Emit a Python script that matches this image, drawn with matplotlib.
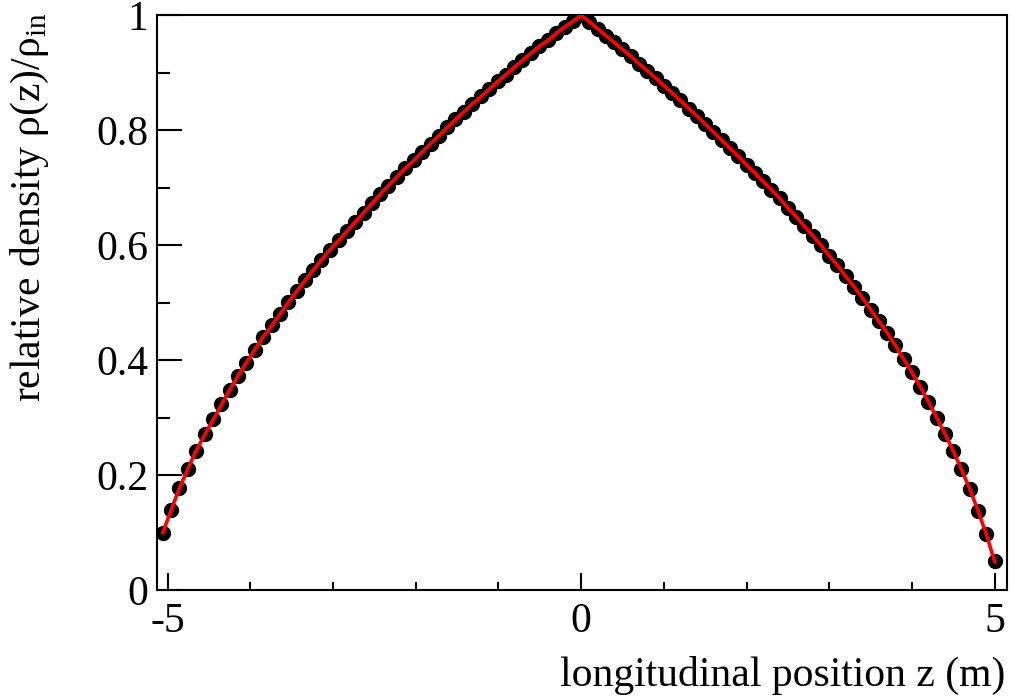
import matplotlib
matplotlib.use('Agg')
import matplotlib.pyplot as plt
from matplotlib.ticker import MultipleLocator

plt.rcParams['font.family'] = ['Liberation Serif', 'DejaVu Serif']
plt.rcParams['mathtext.fontset'] = 'custom'
plt.rcParams['mathtext.rm'] = 'Liberation Serif'
plt.rcParams['axes.unicode_minus'] = False

# longitudinal position (m)
z_left = [-5.06, -4.96, -4.86, -4.76, -4.66, -4.55, -4.45, -4.35, -4.25, -4.15,
          -4.05, -3.95, -3.85, -3.74, -3.64, -3.54, -3.44, -3.34, -3.24, -3.14,
          -3.04, -2.93, -2.83, -2.73, -2.63, -2.53, -2.43, -2.33, -2.23, -2.13,
          -2.02, -1.92, -1.82, -1.72, -1.62, -1.52, -1.42, -1.32, -1.21, -1.11,
          -1.01, -0.91, -0.81, -0.71, -0.61, -0.51, -0.40, -0.30, -0.20, -0.10,
          0.00]
rho_left = [0.100, 0.139, 0.177, 0.210, 0.242, 0.271, 0.297, 0.323, 0.349, 0.373,
            0.396, 0.418, 0.440, 0.461, 0.481, 0.501, 0.520, 0.539, 0.557, 0.575,
            0.592, 0.609, 0.625, 0.641, 0.657, 0.673, 0.689, 0.704, 0.719, 0.734,
            0.748, 0.763, 0.777, 0.791, 0.805, 0.819, 0.832, 0.846, 0.859, 0.872,
            0.885, 0.897, 0.910, 0.922, 0.934, 0.946, 0.957, 0.969, 0.980, 0.990,
            1.000]

z_right = [0.1, 0.2, 0.3, 0.4, 0.5, 0.6, 0.7, 0.8, 0.9, 1.0,
           1.1, 1.2, 1.3, 1.4, 1.5, 1.6, 1.7, 1.8, 1.9, 2.0,
           2.1, 2.2, 2.3, 2.4, 2.5, 2.6, 2.7, 2.8, 2.9, 3.0,
           3.1, 3.2, 3.3, 3.4, 3.5, 3.6, 3.7, 3.8, 3.9, 4.0,
           4.1, 4.2, 4.3, 4.4, 4.5, 4.6, 4.7, 4.8, 4.9, 5.0]
rho_right = [0.989, 0.977, 0.965, 0.953, 0.941, 0.929, 0.916, 0.904, 0.891, 0.878,
             0.865, 0.852, 0.838, 0.825, 0.811, 0.797, 0.783, 0.769, 0.755, 0.740,
             0.726, 0.711, 0.697, 0.682, 0.665, 0.650, 0.633, 0.617, 0.600, 0.582,
             0.565, 0.546, 0.528, 0.509, 0.488, 0.468, 0.448, 0.426, 0.402, 0.379,
             0.354, 0.328, 0.300, 0.272, 0.242, 0.210, 0.176, 0.138, 0.097, 0.050]

z = z_left + z_right
rho = rho_left + rho_right

xticks = [-5, 0, 5]
xticklabels = ['-5', '0', '5']
yticks = [0, 0.2, 0.4, 0.6, 0.8, 1.0]
yticklabels = ['0', '0.2', '0.4', '0.6', '0.8', '1']

fig = plt.figure(figsize=(10.1, 7.0), dpi=100)
ax = fig.add_axes([0.1554, 0.157, 0.8416, 0.821])

ax.plot(z, rho, 'o', color='black', ms=10, zorder=2)
ax.plot(z, rho, '-', color='red', lw=2.6, zorder=3)

ax.set_xlim(-5.13, 5.15)
ax.set_ylim(0, 1)

ax.set_xticks(xticks)
ax.set_xticklabels(xticklabels)
ax.xaxis.set_minor_locator(MultipleLocator(1))
ax.set_yticks(yticks)
ax.set_yticklabels(yticklabels)
ax.yaxis.set_minor_locator(MultipleLocator(0.1))

ax.tick_params(axis='both', which='both', direction='in', width=1.5,
               labelsize=30, top=False, right=False)
ax.tick_params(axis='x', which='major', length=12, pad=9)
ax.tick_params(axis='x', which='minor', length=6)
ax.tick_params(axis='y', which='major', length=18, pad=6)
ax.tick_params(axis='y', which='minor', length=9)
for sp in ax.spines.values():
    sp.set_linewidth(1.5)

fig.text(30 / 1010, 1 - 12 / 700, r'relative density ρ(z)/ρ$_{\mathrm{in}}$',
         rotation=90, ha='center', va='top', fontsize=30)
fig.text(1005 / 1010, 1 - 675 / 700, 'longitudinal position z (m)',
         ha='right', va='center', fontsize=30)

fig.savefig('out.png', dpi=100)
